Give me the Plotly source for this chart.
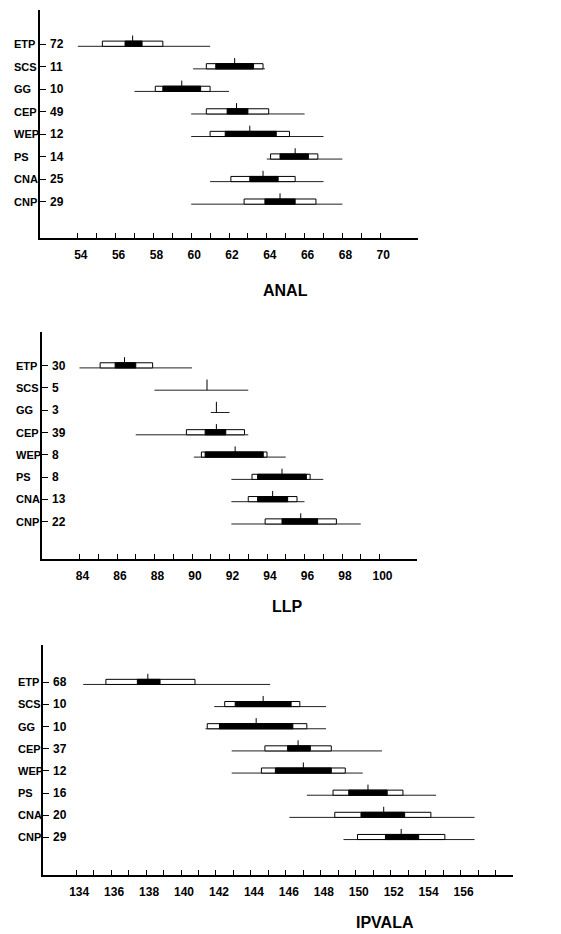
import plotly.graph_objects as go

W, H = 561, 934

groups = ["ETP", "SCS", "GG", "CEP", "WEP", "PS", "CNA", "CNP"]

# ---- ANAL ----
anal_n = [72, 11, 10, 49, 12, 14, 25, 29]
anal_min = [54.0, 60.1, 57.0, 60.0, 60.0, 64.0, 61.0, 60.0]
anal_max = [61.0, 63.9, 62.0, 66.0, 67.0, 68.0, 67.0, 68.0]
anal_mean = [56.9, 62.3, 59.5, 62.4, 63.1, 65.5, 63.8, 64.7]
anal_sd_lo = [55.3, 60.8, 58.1, 60.8, 61.0, 64.2, 62.1, 62.8]
anal_sd_hi = [58.5, 63.8, 61.0, 64.1, 65.2, 66.7, 65.5, 66.6]
anal_se_lo = [56.5, 61.3, 58.5, 61.9, 61.8, 64.7, 63.1, 63.9]
anal_se_hi = [57.4, 63.3, 60.5, 63.0, 64.5, 66.2, 64.6, 65.5]
anal_ticks = list(range(54, 71))
anal_labels = [54, 56, 58, 60, 62, 64, 66, 68, 70]

# ---- LLP ----
llp_n = [30, 5, 3, 39, 8, 8, 13, 22]
llp_min = [84.0, 88.0, 91.0, 87.0, 90.1, 92.1, 92.1, 92.1]
llp_max = [90.0, 93.0, 92.0, 93.0, 95.0, 97.0, 96.0, 99.0]
llp_mean = [86.4, 90.8, 91.3, 91.3, 92.3, 94.8, 94.3, 95.8]
llp_sd_lo = [85.1, None, None, 89.7, 90.5, 93.2, 93.0, 93.9]
llp_sd_hi = [87.9, None, None, 92.8, 94.0, 96.3, 95.6, 97.7]
llp_se_lo = [85.9, None, None, 90.7, 90.7, 93.5, 93.5, 94.8]
llp_se_hi = [87.0, None, None, 91.8, 93.8, 96.1, 95.1, 96.7]
llp_ticks = list(range(84, 101))
llp_labels = [84, 86, 88, 90, 92, 94, 96, 98, 100]

# ---- IPVALA ----
ipv_n = [68, 10, 10, 37, 12, 16, 20, 29]
ipv_min = [134.4, 141.9, 141.4, 142.9, 142.9, 147.2, 146.2, 149.3]
ipv_max = [145.1, 148.3, 148.3, 151.5, 150.4, 154.6, 156.8, 156.8]
ipv_mean = [138.1, 144.7, 144.3, 146.7, 147.0, 150.7, 151.6, 152.6]
ipv_sd_lo = [135.7, 142.5, 141.5, 144.8, 144.6, 148.7, 148.8, 150.1]
ipv_sd_hi = [140.8, 146.8, 147.2, 148.6, 149.4, 152.7, 154.3, 155.1]
ipv_se_lo = [137.5, 143.1, 142.2, 146.1, 145.4, 149.6, 150.3, 151.7]
ipv_se_hi = [138.8, 146.3, 146.4, 147.4, 148.6, 151.8, 152.8, 153.6]
ipv_ticks = list(range(134, 159))
ipv_labels = [134, 136, 138, 140, 142, 144, 146, 148, 150, 152, 154, 156]

panels = [
    dict(title="ANAL", n=anal_n, mn=anal_min, mx=anal_max, mean=anal_mean,
         sdl=anal_sd_lo, sdh=anal_sd_hi, sel=anal_se_lo, seh=anal_se_hi,
         ticks=anal_ticks, labels=anal_labels,
         px=(40, 418), py=(10, 238), xr=(52, 72), yr=(8.6, -1.51),
         title_xy=(285, 290), lab_x=12),
    dict(title="LLP", n=llp_n, mn=llp_min, mx=llp_max, mean=llp_mean,
         sdl=llp_sd_lo, sdh=llp_sd_hi, sel=llp_se_lo, seh=llp_se_hi,
         ticks=llp_ticks, labels=llp_labels,
         px=(42, 417), py=(332, 559), xr=(82, 102), yr=(8.67, -1.51),
         title_xy=(287, 606), lab_x=14),
    dict(title="IPVALA", n=ipv_n, mn=ipv_min, mx=ipv_max, mean=ipv_mean,
         sdl=ipv_sd_lo, sdh=ipv_sd_hi, sel=ipv_se_lo, seh=ipv_se_hi,
         ticks=ipv_ticks, labels=ipv_labels,
         px=(43, 513), py=(645, 875), xr=(132.1, 159), yr=(8.7, -1.68),
         title_xy=(385, 922), lab_x=16),
]

FONT = "Liberation Sans"
LINE_OFF = 0.1      # range line slightly below row centre
BOX_TOP = -0.13     # box top (rows)
MEAN_TOP = -0.38    # mean tick top (rows)

fig = go.Figure()
annotations = []
layout = {}

for i, p in enumerate(panels, start=1):
    xa = "x" if i == 1 else f"x{i}"
    ya = "y" if i == 1 else f"y{i}"
    rows = list(range(len(groups)))

    # range lines
    lx, ly = [], []
    for r, a, b in zip(rows, p["mn"], p["mx"]):
        lx += [a, b, None]
        ly += [r + LINE_OFF, r + LINE_OFF, None]
    fig.add_trace(go.Scatter(x=lx, y=ly, mode="lines", xaxis=xa, yaxis=ya,
                             line=dict(color="#222", width=1), hoverinfo="skip",
                             showlegend=False))

    # SD open boxes and SE filled boxes
    for lo_k, hi_k, fillc in (("sdl", "sdh", "white"), ("sel", "seh", "black")):
        bx, by = [], []
        for r, a, b in zip(rows, p[lo_k], p[hi_k]):
            if a is None:
                continue
            bx += [a, b, b, a, a, None]
            by += [r + LINE_OFF, r + LINE_OFF, r + BOX_TOP, r + BOX_TOP, r + LINE_OFF, None]
        fig.add_trace(go.Scatter(x=bx, y=by, mode="lines", fill="toself",
                                 fillcolor=fillc, xaxis=xa, yaxis=ya,
                                 line=dict(color="black", width=1), hoverinfo="skip",
                                 showlegend=False))

    # mean ticks
    mx_, my_ = [], []
    for r, m in zip(rows, p["mean"]):
        mx_ += [m, m, None]
        my_ += [r + LINE_OFF, r + MEAN_TOP, None]
    fig.add_trace(go.Scatter(x=mx_, y=my_, mode="lines", xaxis=xa, yaxis=ya,
                             line=dict(color="black", width=1), hoverinfo="skip",
                             showlegend=False))

    x0, x1 = p["px"]
    y0, y1 = p["py"]
    ticktext = [str(t) if t in p["labels"] else "" for t in p["ticks"]]
    xkey = "xaxis" if i == 1 else f"xaxis{i}"
    ykey = "yaxis" if i == 1 else f"yaxis{i}"
    layout[xkey] = dict(
        domain=[x0 / W, x1 / W], range=list(p["xr"]), anchor=ya,
        showgrid=False, zeroline=False, showline=True, linecolor="black", linewidth=1.5,
        ticks="inside", ticklen=5, tickwidth=1, tickcolor="black",
        tickmode="array", tickvals=p["ticks"], ticktext=ticktext,
        ticklabelshift=3, ticklabelstandoff=5,
        tickfont=dict(family=FONT, size=12, color="black", weight="bold"),
    )
    layout[ykey] = dict(
        domain=[1 - y1 / H, 1 - y0 / H], range=list(p["yr"]), anchor=xa,
        showgrid=False, zeroline=False, showline=True, linecolor="black", linewidth=1.5,
        ticks="inside", ticklen=6, tickwidth=1, tickcolor="black",
        tickmode="array", tickvals=rows, showticklabels=False,
    )

    for r, g, n in zip(rows, groups, p["n"]):
        annotations.append(dict(text=g, xref="paper", yref=ya, x=p["lab_x"] / W, y=r,
                                xanchor="left", yanchor="middle", showarrow=False,
                                font=dict(family=FONT, size=11, color="black", weight="bold")))
        annotations.append(dict(text=str(n), xref="paper", yref=ya, x=(x0 + 8) / W, y=r,
                                xanchor="left", yanchor="middle", showarrow=False,
                                font=dict(family=FONT, size=12, color="black", weight="bold")))

    tx, ty = p["title_xy"]
    annotations.append(dict(text=p["title"], xref="paper", yref="paper",
                            x=tx / W, y=1 - ty / H, xanchor="center", yanchor="middle",
                            showarrow=False,
                            font=dict(family=FONT, size=16, color="black", weight="bold")))

fig.update_layout(
    width=W, height=H, autosize=False,
    margin=dict(l=0, r=0, t=0, b=0),
    paper_bgcolor="white", plot_bgcolor="white",
    annotations=annotations, showlegend=False,
    **layout,
)

fig.write_html("out.html")
